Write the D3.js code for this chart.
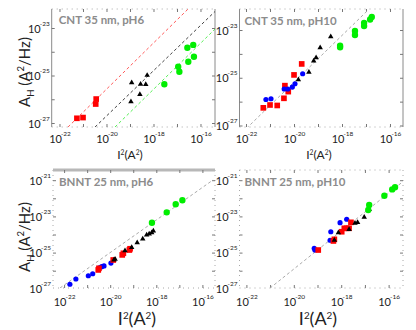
<!DOCTYPE html>
<html><head><meta charset="utf-8">
<script src="https://cdn.jsdelivr.net/npm/d3@7"></script>
<style>body{margin:0;background:#fff}svg{display:block}</style>
</head><body>
<svg id="c" width="416" height="330"></svg>
<script>
// ---- data (log10 of I^2 [A^2] and A_H [A^2/Hz]) ----
const xTickExps = [-22, -20, -18, -16];
const yTickExpsTop = [-23, -25, -27];
const yTickExpsBottom = [-21, -23, -25, -27];
const panelTitles = ["CNT 35 nm, pH6", "CNT 35 nm, pH10", "BNNT 25 nm, pH6", "BNNT 25 nm, pH10"];

// CNT 35 nm, pH6
const cnt6RedX = [-21.28, -21.02, -20.48, -20.46];
const cnt6RedY = [-26.78, -26.75, -26.18, -25.97];
const cnt6BlackX = [-18.95, -18.57, -18.35, -18.29, -18.60, -18.98];
const cnt6BlackY = [-25.28, -25.34, -25.35, -24.97, -25.77, -26.08];
const cnt6GreenX = [-17.56, -16.97, -16.92, -16.58, -16.54, -16.33, -16.30];
const cnt6GreenY = [-25.35, -24.61, -24.82, -23.81, -24.40, -23.69, -24.19];
const cnt6RedFitX = [-21.66, -16.55], cnt6RedFitY = [-27.15, -22.18];
const cnt6BlackFitX = [-20.51, -15.40], cnt6BlackFitY = [-27.15, -22.28];
const cnt6GreenFitX = [-19.66, -15.40], cnt6GreenFitY = [-27.15, -23.02];

// CNT 35 nm, pH10
const cnt10RedX = [-21.30, -21.02, -20.72, -20.44, -20.40, -20.26, -20.02, -19.70];
const cnt10RedY = [-26.24, -26.12, -26.14, -25.84, -25.31, -25.56, -24.86, -24.40];
const cnt10BlueX = [-21.19, -20.98, -20.43, -20.28, -20.09, -19.98, -19.66];
const cnt10BlueY = [-25.89, -25.86, -25.45, -25.45, -25.37, -25.23, -24.81];
const cnt10BlackX = [-19.84, -19.40, -19.20, -19.10, -18.93, -18.49];
const cnt10BlackY = [-25.06, -24.74, -24.27, -24.14, -23.72, -23.26];
const cnt10GreenX = [-18.10, -18.10, -17.48, -17.48, -17.10, -17.10, -16.85, -16.78];
const cnt10GreenY = [-23.64, -23.70, -23.02, -23.19, -22.68, -22.81, -22.54, -22.43];
const cnt10FitX = [-22.0, -16.93], cnt10FitY = [-27.1, -22.14];

// BNNT 25 nm, pH6
const bn6BlueX = [-21.77, -21.51, -20.97, -20.78, -20.49, -20.39, -20.29, -19.99];
const bn6BlueY = [-26.72, -26.43, -26.25, -26.14, -25.81, -25.75, -25.71, -25.55];
const bn6RedX = [-20.54, -20.51, -19.89, -19.50, -19.45, -19.19, -19.16];
const bn6RedY = [-25.93, -25.84, -25.38, -25.10, -25.01, -24.83, -24.76];
const bn6BlackX = [-19.86, -19.81, -19.38, -19.09, -18.85, -18.61, -18.44, -18.33, -18.22, -18.15];
const bn6BlackY = [-25.38, -25.34, -24.87, -24.68, -24.43, -24.22, -24.00, -23.94, -23.87, -23.78];
const bn6GreenX = [-18.21, -17.57, -17.18, -16.89];
const bn6GreenY = [-23.32, -22.75, -22.30, -22.08];
const bn6FitX = [-22.2, -15.56], bn6FitY = [-26.93, -20.96];

// BNNT 25 nm, pH10
const bn10BlueX = [-19.16, -19.13, -18.49, -18.46, -18.07, -17.79];
const bn10BlueY = [-24.73, -24.83, -24.29, -23.82, -23.32, -23.13];
const bn10RedX = [-18.99, -18.35, -18.31, -18.00, -17.89, -17.79, -17.69, -17.61];
const bn10RedY = [-24.83, -24.33, -24.24, -23.82, -23.63, -23.63, -23.63, -23.30];
const bn10BlackX = [-18.31, -18.14, -17.69, -17.44, -17.33, -17.05, -16.84];
const bn10BlackY = [-24.28, -23.87, -23.69, -23.35, -23.30, -23.02, -22.58];
const bn10GreenX = [-16.88, -16.84, -16.20, -15.87, -15.75];
const bn10GreenY = [-22.62, -22.34, -21.83, -21.48, -21.36];
const bn10FitX = [-21.03, -15.33], bn10FitY = [-26.94, -20.96];

// ---- drawing ----
const FONT = 'Lato, "Open Sans", sans-serif';
const svg = d3.select('#c');
const pow = e => Math.pow(10, e);
const zip = (xs, ys) => xs.map((v, i) => [pow(v), pow(ys[i])]);

const COL = {red: '#ff0000', blue: '#0000ff', black: '#000000', green: '#00ee00'};

function drawPanel(cfg, idx) {
  const x = d3.scaleLog().domain(cfg.xd.map(pow)).range(cfg.xr);
  const y = d3.scaleLog().domain(cfg.yd.map(pow)).range(cfg.yr);
  const g = svg.append('g');
  const [x0, x1] = cfg.xr, [y1, y0] = cfg.yr;

  // frame edges
  const edge = (xa, ya, xb, yb, solid) => g.append('line')
    .attr('x1', xa).attr('y1', ya).attr('x2', xb).attr('y2', yb)
    .attr('stroke', solid ? '#8a8a8a' : '#a8a8a8').attr('stroke-width', 1)
    .attr('stroke-dasharray', solid ? null : '1,4');
  edge(x0, y0, x0, y1, cfg.solidSides);
  edge(x1, y0, x1, y1, cfg.solidSides);
  edge(x0, y0, x1, y0, false);
  edge(x0, y1, x1, y1, false);
  if (cfg.thickTop) {
    g.append('line').attr('x1', x0).attr('x2', x1).attr('y1', y0).attr('y2', y0)
      .attr('stroke', '#b8b8b8').attr('stroke-width', 3);
  }
  // decade tick marks
  const xd = d3.range(Math.ceil(cfg.xd[0]), Math.floor(cfg.xd[1]) + 1);
  const yd = d3.range(Math.ceil(cfg.yd[0]), Math.floor(cfg.yd[1]) + 1);
  xd.forEach(e => {
    const px = x(pow(e));
    g.append('line').attr('x1', px).attr('x2', px).attr('y1', y1).attr('y2', y1 - 3).attr('stroke', '#777');
    g.append('line').attr('x1', px).attr('x2', px).attr('y1', y0).attr('y2', y0 + 3).attr('stroke', '#777');
  });
  yd.forEach(e => {
    const py = y(pow(e));
    g.append('line').attr('x1', x0).attr('x2', x0 + 3).attr('y1', py).attr('y2', py).attr('stroke', '#777');
    g.append('line').attr('x1', x1).attr('x2', x1 - 3).attr('y1', py).attr('y2', py).attr('stroke', '#777');
  });

  // tick labels
  xTickExps.forEach(e => {
    const t = g.append('text').attr('x', x(pow(e))).attr('y', y1 + cfg.xLabOff)
      .attr('text-anchor', 'middle').attr('font-family', FONT).attr('font-size', 11).attr('fill', '#222');
    t.append('tspan').text('10');
    t.append('tspan').attr('dy', -7).attr('dx', -1).attr('font-size', 6.5).text(e);
  });
  cfg.yTicks.forEach(e => {
    const t = g.append('text').attr('x', x0 - 2).attr('y', y(pow(e)) + 4)
      .attr('text-anchor', 'end').attr('font-family', FONT).attr('font-size', 11).attr('fill', '#222');
    t.append('tspan').text('10');
    t.append('tspan').attr('dy', -7).attr('dx', -1).attr('font-size', 6.5).text(e);
  });

  // clip
  const cid = 'clip' + idx;
  svg.append('clipPath').attr('id', cid).append('rect')
    .attr('x', x0).attr('y', y0).attr('width', x1 - x0).attr('height', y1 - y0);
  const pg = g.append('g').attr('clip-path', `url(#${cid})`);
  const line = d3.line().x(d => x(d[0])).y(d => y(d[1]));
  cfg.fits.forEach(f => {
    pg.append('path').attr('d', line(zip(f.x, f.y))).attr('fill', 'none')
      .attr('stroke', f.color).attr('stroke-width', 1).attr('stroke-dasharray', '3,2.5');
  });

  // points
  const sym = {
    square: d3.symbol().type(d3.symbolSquare).size(32),
    circle: d3.symbol().type(d3.symbolCircle).size(21),
    bigcircle: d3.symbol().type(d3.symbolCircle).size(32),
    triangle: d3.symbol().type(d3.symbolTriangle).size(13)
  };
  cfg.series.forEach(s => {
    g.append('g').selectAll('path').data(zip(s.x, s.y)).join('path')
      .attr('d', sym[s.shape]()).attr('fill', s.color)
      .attr('transform', d => `translate(${x(d[0])},${y(d[1])})`);
  });

  // panel title
  g.append('text').attr('x', x0 + cfg.titleDx).attr('y', y0 + cfg.titleDy)
    .attr('font-family', FONT).attr('font-weight', 700).attr('font-size', 11.5)
    .attr('fill', '#8c8c8c').text(panelTitles[idx]);

  // x axis title
  const s = cfg.xTitleSize, up = s * 0.36;
  const xt = g.append('text').attr('x', cfg.xTitleX).attr('y', cfg.xTitleY)
    .attr('text-anchor', 'middle').attr('font-family', FONT).attr('font-size', s).attr('fill', '#222');
  xt.append('tspan').text('I');
  xt.append('tspan').attr('dy', -up).attr('font-size', s * 0.55).text('2');
  xt.append('tspan').attr('dy', up).text('(A');
  xt.append('tspan').attr('dy', -up).attr('font-size', s * 0.55).text('2');
  xt.append('tspan').attr('dy', up).text(')');

  if (cfg.yTitle) {
    const yt = g.append('text').attr('transform', `translate(${cfg.yTitleX},${cfg.yTitleY}) rotate(-90)`)
      .attr('text-anchor', 'middle').attr('font-family', FONT).attr('font-size', 15).attr('fill', '#222');
    yt.append('tspan').text('A');
    yt.append('tspan').attr('dy', 4).attr('font-size', 9.5).text('H');
    yt.append('tspan').attr('dy', -4).text(' (A');
    yt.append('tspan').attr('dy', -6).attr('font-size', 9.5).text('2');
    yt.append('tspan').attr('dy', 6).text('/Hz)');
  }
}

const panels = [
  {xd: [-22.353, -15.404], xr: [51.7, 215], yd: [-27.147, -22.179], yr: [127, 9],
   yTicks: yTickExpsTop, solidSides: true, thickTop: false, xLabOff: 16,
   titleDx: 7, titleDy: 15, xTitleX: 130, xTitleY: 159, xTitleSize: 12,
   yTitle: true, yTitleX: 30, yTitleY: 72,
   fits: [{x: cnt6RedFitX, y: cnt6RedFitY, color: '#ff5a5a'},
          {x: cnt6BlackFitX, y: cnt6BlackFitY, color: '#444'},
          {x: cnt6GreenFitX, y: cnt6GreenFitY, color: '#55ee55'}],
   series: [{x: cnt6RedX, y: cnt6RedY, shape: 'square', color: COL.red},
            {x: cnt6BlackX, y: cnt6BlackY, shape: 'triangle', color: COL.black},
            {x: cnt6GreenX, y: cnt6GreenY, shape: 'bigcircle', color: COL.green}]},
  {xd: [-22.292, -15.479], xr: [239.5, 403], yd: [-27.042, -22.099], yr: [127, 9],
   yTicks: yTickExpsTop, solidSides: true, thickTop: false, xLabOff: 16,
   titleDx: 5, titleDy: 16, xTitleX: 319, xTitleY: 159, xTitleSize: 12,
   yTitle: false,
   fits: [{x: cnt10FitX, y: cnt10FitY, color: '#aaa'}],
   series: [{x: cnt10RedX, y: cnt10RedY, shape: 'square', color: COL.red},
            {x: cnt10BlueX, y: cnt10BlueY, shape: 'circle', color: COL.blue},
            {x: cnt10BlackX, y: cnt10BlackY, shape: 'triangle', color: COL.black},
            {x: cnt10GreenX, y: cnt10GreenY, shape: 'bigcircle', color: COL.green}]},
  {xd: [-22.503, -15.475], xr: [53, 215], yd: [-26.928, -20.409], yr: [288, 170],
   yTicks: yTickExpsBottom, solidSides: false, thickTop: true, xLabOff: 18,
   titleDx: 6, titleDy: 16, xTitleX: 137, xTitleY: 325, xTitleSize: 18,
   yTitle: true, yTitleX: 30, yTitleY: 237,
   fits: [{x: bn6FitX, y: bn6FitY, color: '#aaa'}],
   series: [{x: bn6BlueX, y: bn6BlueY, shape: 'circle', color: COL.blue},
            {x: bn6RedX, y: bn6RedY, shape: 'square', color: COL.red},
            {x: bn6BlackX, y: bn6BlackY, shape: 'triangle', color: COL.black},
            {x: bn6GreenX, y: bn6GreenY, shape: 'bigcircle', color: COL.green}]},
  {xd: [-22.312, -15.414], xr: [239.5, 403], yd: [-26.928, -20.409], yr: [288, 170],
   yTicks: yTickExpsBottom, solidSides: false, thickTop: false, xLabOff: 18,
   titleDx: 5, titleDy: 16, xTitleX: 318, xTitleY: 325, xTitleSize: 18,
   yTitle: false,
   fits: [{x: bn10FitX, y: bn10FitY, color: '#aaa'}],
   series: [{x: bn10BlueX, y: bn10BlueY, shape: 'circle', color: COL.blue},
            {x: bn10RedX, y: bn10RedY, shape: 'square', color: COL.red},
            {x: bn10BlackX, y: bn10BlackY, shape: 'triangle', color: COL.black},
            {x: bn10GreenX, y: bn10GreenY, shape: 'bigcircle', color: COL.green}]}
];
panels.forEach(drawPanel);
</script>
</body></html>
